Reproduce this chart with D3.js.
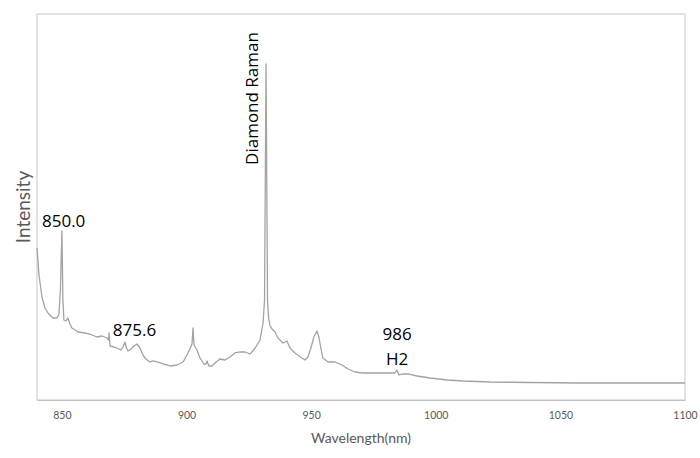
<!DOCTYPE html>
<html><head><meta charset="utf-8">
<script src="https://cdn.jsdelivr.net/npm/d3@7"></script>
<style>body{margin:0;background:#fff}svg{display:block}</style>
</head><body>
<script>
// Spectrum data (wavelength in nm, intensity in arbitrary units)
const wavelength = [840.0,840.8,842.0,843.2,844.4,846.4,848.0,848.8,849.4,850.0,850.4,850.8,851.6,852.4,853.2,854.0,856.5,859.3,862.1,864.1,866.1,868.1,868.7,868.9,869.3,870.9,872.1,873.7,874.5,875.3,875.9,876.5,877.7,878.9,880.1,881.3,882.5,883.7,885.3,886.5,888.1,890.6,893.4,896.2,898.6,900.6,902.2,902.6,903.0,904.2,905.4,907.0,907.8,908.2,909.0,910.2,911.4,913.4,915.4,917.4,919.4,921.5,923.5,925.5,927.5,929.5,930.7,931.3,931.9,932.5,932.9,933.5,934.3,935.5,936.7,938.7,940.3,941.5,943.5,946.3,947.5,948.7,949.9,951.1,952.3,953.1,953.9,954.7,956.8,959.6,962.4,964.8,967.6,970.8,976.4,981.6,983.6,984.4,985.2,986.9,988.9,992.5,997.7,1004.5,1010.9,1021.8,1037.8,1057.9,1077.9,1100.0];
const intensity  = [393.8,323.9,266.9,238.4,225.4,212.5,212.5,222.8,285.0,437.9,259.0,207.3,204.7,212.5,196.9,186.6,176.2,173.6,168.4,163.2,165.8,160.6,155.5,173.6,139.9,137.3,134.7,129.6,137.3,150.3,134.7,127.0,132.2,139.9,145.1,134.7,116.6,106.2,98.5,101.1,98.5,93.3,88.1,90.7,98.5,121.8,145.1,186.6,142.5,129.6,108.8,93.3,93.3,101.1,88.1,88.1,95.9,106.2,103.6,111.4,121.8,124.4,124.4,119.2,134.7,155.5,199.5,259.0,870.6,259.0,215.0,191.7,184.0,176.2,160.6,147.7,152.9,134.7,121.8,108.8,103.6,111.4,134.7,163.2,178.8,163.2,134.7,108.8,98.5,98.5,90.7,80.3,72.5,70.0,70.0,70.0,70.0,77.7,64.8,67.4,67.4,62.2,57.0,51.8,49.2,46.6,45.3,44.0,44.0,44.0];
const xTicks = [850, 900, 950, 1000, 1050, 1100];
const annotations = [
  {text: "850.0", wl: 842.0, val: 447},
  {text: "875.6", wl: 870.4, val: 165},
  {text: "986", wl: 984.5, val: 155, anchor: "middle"},
  {text: "H2", wl: 984.5, val: 91, anchor: "middle"}
];
const ramanLabel = {text: "Diamond Raman", wl: 928.7, val: 609};

const W = 700, H = 458;
const m = {left: 37, right: 15, top: 14, bottom: 58};
const svg = d3.select("body").append("svg").attr("width", W).attr("height", H);

const x = d3.scaleLinear().domain([840, 1100]).range([m.left, W - m.right]);
const y = d3.scaleLinear().domain([0, 1000]).range([H - m.bottom, m.top]);

// plot frame
svg.append("rect")
  .attr("x", x(840)).attr("y", y(1000))
  .attr("width", x(1100) - x(840)).attr("height", y(0) - y(1000))
  .attr("fill", "none").attr("stroke", "#c8c8c8").attr("stroke-width", 1);

// x axis
const xAxis = d3.axisBottom(x).tickValues(xTicks).tickSize(0).tickPadding(12).tickFormat(d3.format("d"));
const gx = svg.append("g").attr("transform", `translate(0,${y(0)})`).call(xAxis);
gx.select(".domain").attr("stroke", "#c0c0c0");
gx.selectAll("text").attr("fill", "#595959").style("font-family", "Lato, 'Open Sans', sans-serif").style("font-size", "10.5px");

// axis titles
svg.append("text").attr("x", 361).attr("y", 443).attr("text-anchor", "middle")
  .attr("fill", "#595959").style("font-family", "Lato, 'Open Sans', sans-serif").style("font-size", "14px")
  .text("Wavelength(nm)");
svg.append("text").attr("transform", "translate(30,207) rotate(-90)").attr("text-anchor", "middle")
  .attr("fill", "#595959").style("font-family", "Lato, 'Open Sans', sans-serif").style("font-size", "19px")
  .text("Intensity");

// spectrum line
const pts = wavelength.map((w, i) => [w, intensity[i]]);
const line = d3.line().x(d => x(d[0])).y(d => y(d[1])).curve(d3.curveLinear);
svg.append("path").datum(pts).attr("d", line)
  .attr("fill", "none").attr("stroke", "#a3a3a3").attr("stroke-width", 1.3).attr("stroke-linejoin", "round");

// annotations
svg.selectAll("text.ann").data(annotations).enter().append("text").attr("class", "ann")
  .attr("x", d => x(d.wl)).attr("y", d => y(d.val))
  .attr("text-anchor", d => d.anchor || "start")
  .attr("fill", "#000").style("font-family", "'Open Sans', sans-serif").style("font-size", "17px")
  .text(d => d.text);
svg.append("text")
  .attr("transform", `translate(${x(ramanLabel.wl)},${y(ramanLabel.val)}) rotate(-90)`)
  .attr("fill", "#000").style("font-family", "'Open Sans', sans-serif").style("font-size", "17px")
  .text(ramanLabel.text);
</script>
</body></html>
